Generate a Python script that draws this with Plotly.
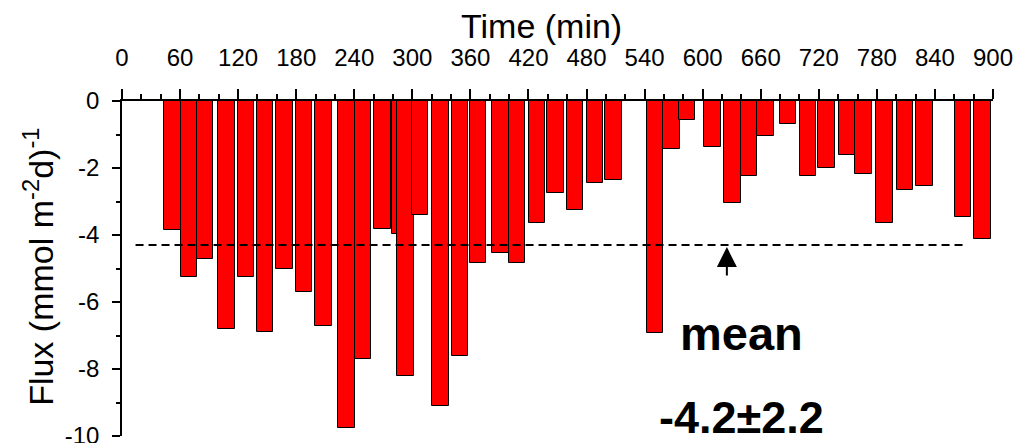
import plotly.graph_objects as go

# ---- data ----
time_min = [52, 69, 86, 108, 128, 148, 168, 188, 208, 232,
            249, 269, 287, 293, 308, 329, 349, 368, 391, 408,
            429, 448, 468, 489, 508, 551, 568, 584, 610, 631,
            648, 665, 688, 709, 728, 749, 766, 788, 809, 829,
            869, 889]
flux = [-3.84, -5.24, -4.72, -6.80, -5.24, -6.89, -5.01, -5.69, -6.71, -9.75,
        -7.71, -3.81, -3.96, -8.20, -3.39, -9.09, -7.61, -4.84, -4.54, -4.84,
        -3.64, -2.75, -3.24, -2.45, -2.35, -6.93, -1.43, -0.57, -1.38, -3.04,
        -2.25, -1.05, -0.68, -2.25, -2.00, -1.60, -2.18, -3.64, -2.67, -2.55,
        -3.45, -4.13]

mean_line_y = -4.3
mean_line_x = [14, 872]
arrow_x = 625
label_x = 640

x_tick_vals = [0, 60, 120, 180, 240, 300, 360, 420, 480, 540, 600, 660, 720, 780, 840, 900]
y_tick_vals = [0, -2, -4, -6, -8, -10]
y_tick_text = ["0", "-2", "-4", "-6", "-8", "-10"]

FONT = "Arial, Liberation Sans, sans-serif"

fig = go.Figure()
fig.add_trace(go.Bar(
    x=time_min, y=flux, width=17,
    marker=dict(color="#FF0000", line=dict(color="black", width=1)),
    showlegend=False,
))
fig.add_trace(go.Scatter(
    x=mean_line_x, y=[mean_line_y, mean_line_y], mode="lines",
    line=dict(color="black", width=2, dash="8px,5px"),
    showlegend=False,
))

fig.update_layout(
    width=1019, height=443,
    margin=dict(l=122, r=26, t=101, b=7, autoexpand=False),
    paper_bgcolor="white", plot_bgcolor="white",
    font=dict(family=FONT, color="black"),
    bargap=0,
)
fig.update_xaxes(
    side="top", range=[0, 900], automargin=False,
    tickvals=x_tick_vals, ticks="outside", ticklen=10, tickwidth=1.5, tickcolor="black",
    showline=True, linecolor="black", linewidth=1.5, showgrid=False, zeroline=False,
    tickfont=dict(size=24, family=FONT), ticklabelstandoff=14,
    minor=dict(dtick=20, ticks="outside", ticklen=5, tickwidth=1.5, tickcolor="black"),
)
fig.update_yaxes(
    range=[-10, 0], automargin=False,
    tickvals=y_tick_vals, ticktext=y_tick_text,
    ticks="outside", ticklen=8, tickwidth=1.5, tickcolor="black",
    showline=True, linecolor="black", linewidth=1.5, showgrid=False, zeroline=False,
    tickfont=dict(size=24, family=FONT), ticklabelstandoff=8,
    ticklabeloverflow="allow",
    minor=dict(dtick=1, ticks="outside", ticklen=4, tickwidth=1.5, tickcolor="black"),
)

fig.add_annotation(text="Time (min)", xref="paper", yref="paper",
                   x=0.482, y=1.225, xanchor="center", yanchor="middle",
                   showarrow=False, font=dict(size=34, family=FONT))
fig.add_annotation(text="Flux (mmol m<sup>-2</sup>d)<sup>-1</sup>", xref="paper", yref="paper",
                   x=-0.096, y=0.506, xanchor="center", yanchor="middle", textangle=-90,
                   showarrow=False, font=dict(size=34, family=FONT))
fig.add_annotation(text="", x=arrow_x, y=mean_line_y, xref="x", yref="y",
                   ax=0, ay=32, showarrow=True, arrowhead=2, arrowsize=2.0,
                   arrowwidth=2, arrowcolor="black", standoff=2)
fig.add_annotation(text="<b>mean</b>", x=label_x, y=-6.95, xref="x", yref="y",
                   showarrow=False, font=dict(size=47, family=FONT),
                   xanchor="center", yanchor="middle")
fig.add_annotation(text="<b>-4.2±2.2</b>", x=label_x, y=-9.45, xref="x", yref="y",
                   showarrow=False, font=dict(size=45, family=FONT),
                   xanchor="center", yanchor="middle")

fig.write_html("out.html")
